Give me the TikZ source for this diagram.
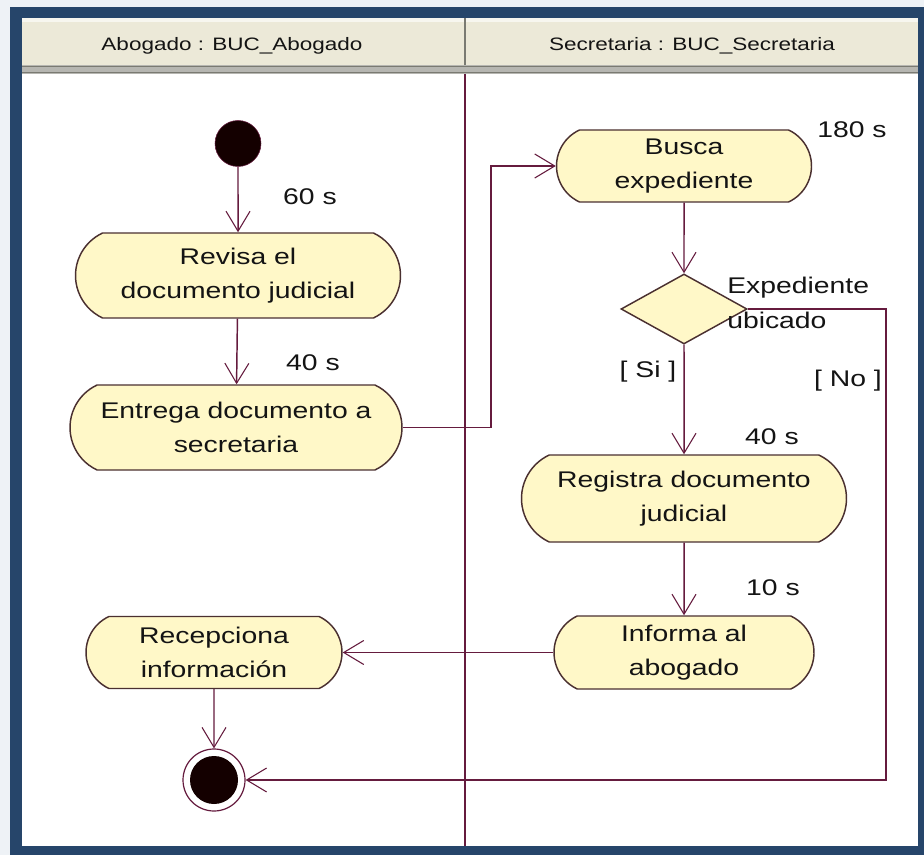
\documentclass[tikz,border=0pt]{standalone}
\usepackage{fontspec}
\setmainfont{Liberation Sans}[FakeStretch=1.25]
\usetikzlibrary{arrows.meta,shapes.geometric,shapes.misc}

\definecolor{framec}{HTML}{26456A}
\definecolor{outside}{HTML}{EEF2F6}
\definecolor{hdr}{HTML}{ECE9D8}
\definecolor{hdrline}{HTML}{7A7A72}
\definecolor{actfill}{HTML}{FFF8C8}
\definecolor{actline}{HTML}{4A3030}
\definecolor{flowc}{HTML}{651B3E}
\definecolor{ink}{HTML}{141414}

\newcommand\actfont{\fontsize{17}{26}\selectfont}
\newcommand\hdrfont{\fontsize{13.5}{16}\selectfont}

\begin{document}
\begin{tikzpicture}[x=0.75pt,y=-0.75pt,
  act/.style={rounded rectangle, rounded rectangle arc length=130,
              draw=actline, line width=1.1pt, fill=actfill,
              align=center, text=ink, font=\actfont, inner sep=0pt},
  flow/.style={draw=flowc, line width=1.1pt,
               -{Straight Barb[length=15pt,width=18pt,line width=0.8pt]}},
  lbl/.style={text=ink, font=\actfont, inner sep=0pt},
  hdrtext/.style={text=ink, font=\hdrfont, inner sep=0pt},
  startstate/.style={circle, fill=black!92!red, draw=flowc, inner sep=0pt},
]
\useasboundingbox (0,0) rectangle (924,855);

% window frame
\fill[outside] (0,0) rectangle (924,855);
\fill[framec] (10,7) rectangle (924,855);
\fill[white] (22,18) rectangle (918,846);

% swimlane header
\fill[hdr] (22,18) rectangle (918,65);
\fill[white!60!hdr] (22,18) rectangle (918,22);
\fill[hdrline!55!white] (22,65) rectangle (918,74);
\draw[hdrline, line width=1.2pt] (22,66.5) -- (918,66.5);
\draw[hdrline, line width=1.2pt] (22,72.5) -- (918,72.5);
\draw[hdrline, line width=1pt] (465,18) -- (465,65);
\node[hdrtext] (laneA) at (232,46) {Abogado : BUC\_Abogado};
\node[hdrtext] (laneB) at (692,46) {Secretaria : BUC\_Secretaria};

% lane divider
\draw[flowc, line width=1.1pt] (465,74) -- (465,846);

% activities
\node[startstate, minimum size=34.5pt] (start) at (238,143.5) {};
\node[act, minimum width=243.75pt, minimum height=63.75pt] (revisa) at (238,275.5)
  {Revisa el\\documento judicial};
\node[act, minimum width=249pt, minimum height=63.75pt] (entrega) at (236,427.5)
  {Entrega documento a\\secretaria};
\node[act, minimum width=191.25pt, minimum height=54pt] (busca) at (684,166)
  {Busca\\expediente};
\node[diamond, draw=actline, line width=1.1pt, fill=actfill, inner sep=0pt,
      minimum width=94.5pt, minimum height=52.5pt] (dec) at (684,309) {};
\node[act, minimum width=243.75pt, minimum height=65.25pt] (registra) at (684,498.5)
  {Registra documento\\judicial};
\node[act, minimum width=195pt, minimum height=54.75pt] (informa) at (684,652.5)
  {Informa al\\abogado};
\node[act, minimum width=192pt, minimum height=54pt] (recep) at (214,652.5)
  {Recepciona\\información};
\node[circle, draw=flowc, line width=0.9pt, fill=white, minimum size=46.5pt] (final) at (214,780) {};
\node[startstate, draw=none, minimum size=36pt] (finalcore) at (final) {};

% timing and guard labels
\node[lbl] (t60) at (310,197) {60 s};
\node[lbl] (t40a) at (313,363) {40 s};
\node[lbl] (t180) at (852,130) {180 s};
\node[lbl] (t40b) at (772,437) {40 s};
\node[lbl] (t10) at (773,588) {10 s};
\node[lbl] (gsi) at (648,372) {[ Si ]};
\node[lbl] (gno) at (848,381) {[ No ]};
\node[lbl, align=left, anchor=west] (cond) at (727,303) {Expediente\\ubicado};

% transitions
\coordinate (turn) at (491,300);
\coordinate (nobend) at (886,780);
\draw[flow] (start) -- (revisa);
\draw[flow] (revisa) -- (entrega);
\draw[flow] (entrega.east) -| (turn) |- (busca.west);
\draw[flow] (busca) -- (dec);
\draw[flow] (dec) -- (registra);
\draw[flow] (dec.east) -| (nobend) -- (final.east);
\draw[flow] (registra) -- (informa);
\draw[flow] (informa.west) -- (recep.east);
\draw[flow] (recep) -- (final);
\end{tikzpicture}
\end{document}
